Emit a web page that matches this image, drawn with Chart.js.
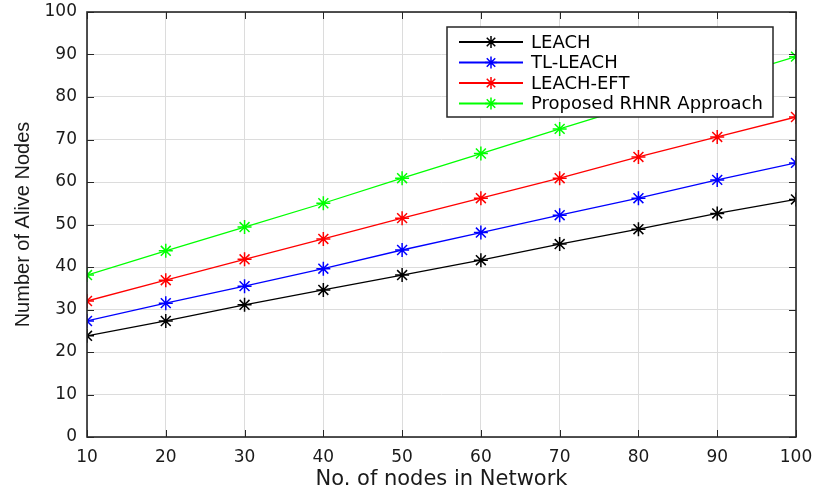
<!DOCTYPE html>
<html>
<head>
<meta charset="utf-8">
<script src="https://cdn.jsdelivr.net/npm/chart.js@4/dist/chart.umd.min.js"></script>
<style>
  body { margin: 0; background: #fff; }
</style>
</head>
<body>
<canvas id="chart" width="814" height="490"></canvas>
<script>
// Data
const nodeCounts = [10, 20, 30, 40, 50, 60, 70, 80, 90, 100];
const leach = [23.8, 27.3, 31.1, 34.6, 38.1, 41.6, 45.4, 48.9, 52.6, 55.9];
const tlLeach = [27.3, 31.5, 35.5, 39.6, 44.0, 48.1, 52.2, 56.2, 60.5, 64.5];
const leachEft = [32.0, 36.9, 41.8, 46.6, 51.5, 56.2, 60.9, 65.9, 70.6, 75.3];
const proposed = [38.1, 43.8, 49.4, 55.0, 60.9, 66.7, 72.5, 78.2, 83.9, 89.5];
const seriesNames = ['LEACH', 'TL-LEACH', 'LEACH-EFT', 'Proposed RHNR Approach'];
const seriesColors = ['#000000', '#0000ff', '#ff0000', '#00ff00'];

const axisColor = '#262626';

function toPoints(values) {
    return nodeCounts.map((n, i) => ({ x: n, y: values[i] }));
}

function drawStar(ctx, x, y, r) {
    ctx.beginPath();
    ctx.moveTo(x - r, y); ctx.lineTo(x + r, y);
    ctx.moveTo(x, y - r); ctx.lineTo(x, y + r);
    const d = r * Math.SQRT1_2;
    ctx.moveTo(x - d, y - d); ctx.lineTo(x + d, y + d);
    ctx.moveTo(x - d, y + d); ctx.lineTo(x + d, y - d);
    ctx.stroke();
}

// no extra room for overflowing end labels, the layout padding sets the box
function noOverflow(scale) {
    scale.paddingLeft = 0;
    scale.paddingRight = 0;
    scale.paddingTop = 0;
    scale.paddingBottom = 0;
}

// MATLAB style box, inward ticks and legend in the top right
const matlabFrame = {
    id: 'matlabFrame',
    afterDraw(chart) {
        const ctx = chart.ctx;
        const a = chart.chartArea;
        const xs = chart.scales.x, ys = chart.scales.y;
        ctx.save();
        ctx.strokeStyle = axisColor;
        ctx.lineWidth = 1;
        ctx.beginPath();
        xs.ticks.forEach(t => {
            const px = Math.round(xs.getPixelForValue(t.value)) + 0.5;
            ctx.moveTo(px, a.bottom); ctx.lineTo(px, a.bottom - 7);
            ctx.moveTo(px, a.top); ctx.lineTo(px, a.top + 7);
        });
        ys.ticks.forEach(t => {
            const py = Math.round(ys.getPixelForValue(t.value)) + 0.5;
            ctx.moveTo(a.left, py); ctx.lineTo(a.left + 7, py);
            ctx.moveTo(a.right, py); ctx.lineTo(a.right - 7, py);
        });
        ctx.stroke();
        ctx.lineWidth = 1.6;
        ctx.strokeRect(a.left, a.top, a.right - a.left, a.bottom - a.top);

        // legend
        const bx = 447, by = 27, bw = 326, bh = 90;
        ctx.fillStyle = '#fff';
        ctx.fillRect(bx, by, bw, bh);
        ctx.lineWidth = 1.5;
        ctx.strokeRect(bx, by, bw, bh);
        ctx.font = '18px "DejaVu Sans"';
        ctx.textBaseline = 'middle';
        chart.data.datasets.forEach((ds, i) => {
            const y = by + 15 + i * 20.5;
            ctx.strokeStyle = ds.borderColor;
            ctx.lineWidth = 2;
            ctx.beginPath();
            ctx.moveTo(459, y); ctx.lineTo(523, y);
            ctx.stroke();
            ctx.lineWidth = 1.5;
            drawStar(ctx, 491, y, 6);
            ctx.fillStyle = '#000';
            ctx.fillText(ds.label, 531, y + 1);
        });
        ctx.restore();
    }
};

const series = [leach, tlLeach, leachEft, proposed];

new Chart(document.getElementById('chart'), {
    type: 'line',
    data: {
        datasets: series.map((vals, i) => ({
            label: seriesNames[i],
            data: toPoints(vals),
            borderColor: seriesColors[i],
            backgroundColor: seriesColors[i],
            borderWidth: 1.3,
            pointStyle: 'star',
            pointRadius: 7,
            pointBorderWidth: 1.5,
            fill: false,
            tension: 0
        }))
    },
    options: {
        responsive: false,
        animation: false,
        devicePixelRatio: 1,
        layout: { padding: { left: 11, top: 12, right: 18, bottom: 0 } },
        plugins: {
            legend: { display: false },
            tooltip: { enabled: false }
        },
        scales: {
            x: {
                type: 'linear',
                min: 10,
                max: 100,
                ticks: {
                    stepSize: 10,
                    padding: 10,
                    color: '#1a1a1a',
                    font: { family: 'DejaVu Sans', size: 17 },
                    maxRotation: 0
                },
                grid: { color: '#dcdcdc', lineWidth: 1, drawTicks: false },
                border: { display: false },
                title: {
                    display: true,
                    text: 'No. of nodes in Network',
                    color: '#1a1a1a',
                    font: { family: 'DejaVu Sans', size: 21, lineHeight: 1 },
                    padding: 0
                },
                afterFit(scale) { scale.height = 53; noOverflow(scale); }
            },
            y: {
                min: 0,
                max: 100,
                ticks: {
                    stepSize: 10,
                    padding: 10,
                    color: '#1a1a1a',
                    font: { family: 'DejaVu Sans', size: 17 }
                },
                grid: { color: '#dcdcdc', lineWidth: 1, drawTicks: false },
                border: { display: false },
                title: {
                    display: true,
                    text: 'Number of Alive Nodes',
                    color: '#1a1a1a',
                    font: { family: 'Liberation Sans', size: 20 },
                    padding: 0
                },
                afterFit(scale) { scale.width = 76; noOverflow(scale); }
            }
        }
    },
    plugins: [matlabFrame]
});
</script>
</body>
</html>
